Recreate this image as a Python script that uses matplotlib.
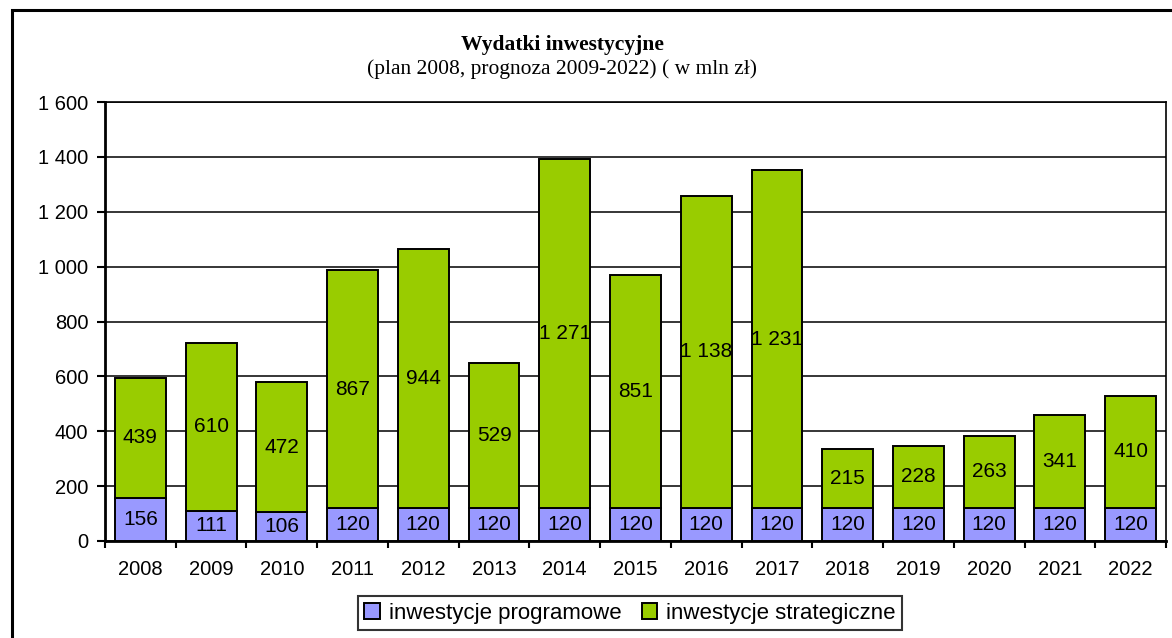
import matplotlib
matplotlib.use("Agg")
import matplotlib.pyplot as plt
from matplotlib.patches import Rectangle
import numpy as np

# ── dane ──────────────────────────────────────────────────────────────
years       = ["2008", "2009", "2010", "2011", "2012", "2013", "2014", "2015",
               "2016", "2017", "2018", "2019", "2020", "2021", "2022"]
programowe  = [156, 111, 106, 120, 120, 120, 120, 120, 120, 120, 120, 120, 120, 120, 120]
strategiczne = [439, 610, 472, 867, 944, 529, 1271, 851, 1138, 1231, 215, 228, 263, 341, 410]
y_ticks     = [0, 200, 400, 600, 800, 1000, 1200, 1400, 1600]

C_PROG  = "#9999FF"
C_STRAT = "#99CC00"


def fmt(v):
    return f"{v:,}".replace(",", " ")


plt.rcParams["font.family"] = ["Liberation Sans", "DejaVu Sans"]

fig = plt.figure(figsize=(11.72, 6.38), dpi=100)
ax = fig.add_axes([105 / 1172, 1 - 541 / 638, (1166 - 105) / 1172, (541 - 102) / 638])

# ramka zewnętrzna
fig.patches.append(Rectangle((12 / 1172, -0.05), 1.2, 1 - 10 / 638 + 0.05,
                             transform=fig.transFigure, fill=False,
                             edgecolor="black", linewidth=2.2))

x = np.arange(len(years))
w = 0.72
b1 = ax.bar(x, programowe, w, color=C_PROG, edgecolor="black", linewidth=1.4,
            label="inwestycje programowe", zorder=3)
b2 = ax.bar(x, strategiczne, w, bottom=programowe, color=C_STRAT, edgecolor="black",
            linewidth=1.4, label="inwestycje strategiczne", zorder=3)

for xi, p, s in zip(x, programowe, strategiczne):
    ax.text(xi, p / 2, fmt(p), ha="center", va="center", fontsize=15, zorder=4)
    ax.text(xi, p + s / 2, fmt(s), ha="center", va="center", fontsize=15, zorder=4)

ax.set_xlim(-0.5, len(years) - 0.5)
ax.set_ylim(0, 1600)
ax.set_yticks(y_ticks)
ax.set_yticklabels([fmt(v) for v in y_ticks], fontsize=14.5)
ax.yaxis.grid(True, color="black", linewidth=1.1, zorder=0)

ax.set_xticks(x)
ax.set_xticklabels(years, fontsize=14.5)
ax.tick_params(axis="x", length=0, pad=14)
ax.set_xticks(np.arange(len(years) + 1) - 0.5, minor=True)
ax.tick_params(axis="x", which="minor", length=5, width=1.5, direction="out")
ax.tick_params(axis="y", length=6, width=1.5, direction="out", pad=6)

for sp in ax.spines.values():
    sp.set_linewidth(1.2)
ax.spines["left"].set_linewidth(2)
ax.spines["bottom"].set_linewidth(2)

serif = ["Liberation Serif", "DejaVu Serif"]
fig.text(562 / 1172, 1 - 45 / 638, "Wydatki inwestycyjne", ha="center", va="center",
         fontsize=15.5, fontweight="bold", family=serif)
fig.text(562 / 1172, 1 - 69 / 638, "(plan 2008, prognoza 2009-2022) ( w mln zł)",
         ha="center", va="center", fontsize=15.5, family=serif)

leg = fig.legend(handles=[b1, b2], loc="center", bbox_to_anchor=(630 / 1172, 1 - 613 / 638),
                 ncol=2, fontsize=16, frameon=True, fancybox=False, handlelength=0.7,
                 handleheight=0.7, handletextpad=0.4, columnspacing=0.9,
                 borderpad=0.3)
leg.get_frame().set_edgecolor("black")
leg.get_frame().set_linewidth(1.5)

fig.savefig("out.png", dpi=100)
